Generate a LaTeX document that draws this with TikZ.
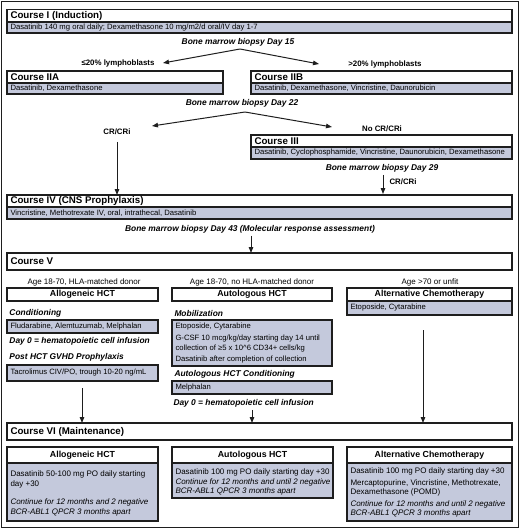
\documentclass[tikz,border=0pt]{standalone}
\usepackage{fontspec}
\setmainfont{Liberation Sans}
\usetikzlibrary{arrows.meta}
\definecolor{boxgray}{RGB}{196,201,220}
\definecolor{linegray}{RGB}{30,30,30}
\tikzset{every picture/.style={line width=0.75pt}}
\tikzset{
	boxline/.style={draw=linegray, line width=1pt},
	graybox/.style={boxline, fill=boxgray},
	headtext/.style={anchor=west, inner sep=0.75pt, font=\fontsize{7.3}{8.5}\selectfont\bfseries},
	colhead/.style={inner sep=0.75pt, font=\fontsize{6.6}{8}\selectfont\bfseries},
	bodytext/.style={anchor=west, inner sep=0.75pt, font=\fontsize{5.75}{7}\selectfont},
	maintext/.style={anchor=west, inner sep=0.75pt, font=\fontsize{6}{7}\selectfont},
	itmain/.style={maintext, font=\fontsize{6}{7}\selectfont\itshape},
	notetext/.style={inner sep=0.75pt, font=\fontsize{6.3}{7.5}\selectfont\bfseries\itshape},
	branchtext/.style={inner sep=0.75pt, font=\fontsize{5.9}{7}\selectfont\bfseries},
	agetext/.style={inner sep=0.75pt, font=\fontsize{6}{7}\selectfont},
	arr/.style={draw=linegray, line width=0.75pt, -{Triangle[length=4.5pt,width=3.4pt]}}}

\begin{document}
\begin{tikzpicture}[x=0.75pt,y=0.75pt,yscale=-1,xscale=1]
	\useasboundingbox (0,0) rectangle (520,529);
	%Shape: Rectangle (frame)
	\draw [draw=linegray, line width=0.6pt] (1.5,1.5) rectangle (518.5,527.5);
	
	%Shape: Rectangle (Course I)
	\draw [boxline] (7,9.5) rectangle (512,22);
	\draw [graybox] (7,22) rectangle (512,33);
	%Shape: Rectangle (Course IIA)
	\draw [boxline] (7,71) rectangle (223,83);
	\draw [graybox] (7,83) rectangle (223,94);
	%Shape: Rectangle (Course IIB)
	\draw [boxline] (251,71) rectangle (512,83);
	\draw [graybox] (251,83) rectangle (512,94);
	%Shape: Rectangle (Course III)
	\draw [boxline] (251,135) rectangle (512,147);
	\draw [graybox] (251,147) rectangle (512,159);
	%Shape: Rectangle (Course IV)
	\draw [boxline] (7,195) rectangle (512,207);
	\draw [graybox] (7,207) rectangle (512,219);
	%Shape: Rectangle (Course V)
	\draw [boxline] (7,253) rectangle (512,270);
	%Shape: Rectangle (Course V columns)
	\draw [boxline] (7,288) rectangle (158,301);
	\draw [boxline] (172,288) rectangle (332,301);
	\draw [boxline] (347,288) rectangle (512,301);
	\draw [graybox] (347,301) rectangle (512,315);
	\draw [graybox] (7,320) rectangle (158,333);
	\draw [graybox] (7,365) rectangle (158,381);
	\draw [graybox] (172,320) rectangle (332,366);
	\draw [graybox] (172,381) rectangle (332,394);
	%Shape: Rectangle (Course VI)
	\draw [boxline] (7,423) rectangle (512,440);
	%Shape: Rectangle (Course VI columns)
	\draw [boxline] (7,447) rectangle (158,463);
	\draw [graybox] (7,463) rectangle (158,521);
	\draw [boxline] (172,447) rectangle (333,463);
	\draw [graybox] (172,463) rectangle (333,498);
	\draw [boxline] (347,447) rectangle (512,463);
	\draw [graybox] (347,463) rectangle (512,521);
	
	% Text Node
	\node (c1h) [headtext] at (9,15.75) {Course I (Induction)};
	\node (c1b) [bodytext] at (9,27.5) {Dasatinib 140 mg oral daily; Dexamethasone 10 mg/m2/d oral/IV day 1-7};
	\node (bmb15) [notetext] at (238,42) {Bone marrow biopsy Day 15};
	\node (lowblast) [branchtext] at (118,63) {≤20\% lymphoblasts};
	\node (highblast) [branchtext] at (385,64) {>20\% lymphoblasts};
	\node (c2ah) [headtext] at (9,77) {Course IIA};
	\node (c2ab) [bodytext] at (9,88.5) {Dasatinib, Dexamethasone};
	\node (c2bh) [headtext] at (253,77) {Course IIB};
	\node (c2bb) [bodytext] at (253,88.5) {Dasatinib, Dexamethasone, Vincristine, Daunorubicin};
	\node (bmb22) [notetext] at (242,103) {Bone marrow biopsy Day 22};
	\node (crA) [branchtext] at (117,132) {CR/CRi};
	\node (nocr) [branchtext] at (382,129) {No CR/CRi};
	\node (c3h) [headtext] at (253,141) {Course III};
	\node (c3b) [bodytext] at (253,153) {Dasatinib, Cyclophosphamide, Vincristine, Daunorubicin, Dexamethasone};
	\node (bmb29) [notetext] at (382,168) {Bone marrow biopsy Day 29};
	\node (crB) [branchtext, anchor=west] at (388,182) {CR/CRi};
	\node (c4h) [headtext] at (9,201) {Course IV (CNS Prophylaxis)};
	\node (c4b) [bodytext] at (9,213) {Vincristine, Methotrexate IV, oral, intrathecal, Dasatinib};
	\node (bmb43) [notetext] at (250,229) {Bone marrow biopsy Day 43 (Molecular response assessment)};
	\node (c5h) [headtext] at (9,261.5) {Course V};
	
	% Text Node (Course V columns)
	\node (ageallo) [agetext] at (84,282) {Age 18-70, HLA-matched donor};
	\node (ageauto) [agetext] at (252,282) {Age 18-70, no HLA-matched donor};
	\node (agealt) [agetext] at (430,282) {Age >70 or unfit};
	\node (allo) [colhead] at (82.5,294.5) {Allogeneic HCT};
	\node (auto) [colhead] at (252,294.5) {Autologous HCT};
	\node (alt) [colhead] at (429.5,294.5) {Alternative Chemotherapy};
	\node (altb) [bodytext] at (349,308) {Etoposide, Cytarabine};
	\node (cond) [notetext, anchor=west] at (8,313) {Conditioning};
	\node (condb) [bodytext] at (9,326.5) {Fludarabine, Alemtuzumab, Melphalan};
	\node (dayallo) [notetext, anchor=west] at (8,341) {Day 0 = hematopoietic cell infusion};
	\node (gvhd) [notetext, anchor=west] at (8,357) {Post HCT GVHD Prophylaxis};
	\node (gvhdb) [bodytext] at (9,373) {Tacrolimus CIV/PO, trough 10-20 ng/mL};
	\node (mob) [notetext, anchor=west] at (173,313) {Mobilization};
	\node (mob1) [bodytext] at (174,327) {Etoposide, Cytarabine};
	\node (mob2) [bodytext] at (174,338.5) {G-CSF 10 mcg/kg/day starting day 14 until};
	\node (mob3) [bodytext] at (174,348.5) {collection of ≥5 x 10\textasciicircum 6 CD34+ cells/kg};
	\node (mob4) [bodytext] at (174,359.5) {Dasatinib after completion of collection};
	\node (autocond) [notetext, anchor=west] at (173,374) {Autologous HCT Conditioning};
	\node (autocondb) [bodytext] at (174,387.5) {Melphalan};
	\node (dayauto) [notetext, anchor=west] at (172,403) {Day 0 = hematopoietic cell infusion};
	
	% Text Node (Course VI)
	\node (c6h) [headtext] at (9,431.5) {Course VI (Maintenance)};
	\node (allo6) [colhead] at (82.5,455) {Allogeneic HCT};
	\node (allo6a) [maintext] at (9,474) {Dasatinib 50-100 mg PO daily starting};
	\node (allo6b) [maintext] at (9,484) {day +30};
	\node (allo6c) [itmain] at (9,502) {Continue for 12 months and 2 negative};
	\node (allo6d) [itmain] at (9,512) {BCR-ABL1 QPCR 3 months apart};
	\node (auto6) [colhead] at (252.5,455) {Autologous HCT};
	\node (auto6a) [maintext] at (174,472) {Dasatinib 100 mg PO daily starting day +30};
	\node (auto6b) [itmain] at (174,482) {Continue for 12 months and until 2 negative};
	\node (auto6c) [itmain] at (174,491) {BCR-ABL1 QPCR 3 months apart};
	\node (alt6) [colhead] at (429.5,455) {Alternative Chemotherapy};
	\node (alt6a) [maintext] at (349,471) {Dasatinib 100 mg PO daily starting day +30};
	\node (alt6b) [maintext] at (349,483.5) {Mercaptopurine, Vincristine, Methotrexate,};
	\node (alt6c) [maintext] at (349,492) {Dexamethasone (POMD)};
	\node (alt6d) [itmain] at (349,504) {Continue for 12 months and until 2 negative};
	\node (alt6e) [itmain] at (349,513) {BCR-ABL1 QPCR 3 months apart};
	
	%Coordinates for connectors
	\coordinate (splitA) at (240,49);
	\coordinate (tipA1) at (163,63);
	\coordinate (tipA2) at (319,64);
	\coordinate (splitB) at (245,112);
	\coordinate (tipB1) at (152,126);
	\coordinate (tipB2) at (332,127);
	\coordinate (c4in) at (117,195);
	\coordinate (c4inB) at (383,194);
	\coordinate (c5in) at (251,253);
	\coordinate (alloout) at (82,388);
	\coordinate (altout) at (423,330);
	\coordinate (c6allo) at (82,423);
	\coordinate (c6auto) at (252,423);
	\coordinate (c6alt) at (423,423);
	
	%Straight Lines
	\draw [arr] (splitA) -- (tipA1);
	\draw [arr] (splitA) -- (tipA2);
	\draw [arr] (splitB) -- (tipB1);
	\draw [arr] (splitB) -- (tipB2);
	\draw [arr, shorten <=4pt] (crA.south) -- (c4in);
	\draw [arr, shorten <=1pt] (bmb29.south -| c4inB) -- (c4inB);
	\draw [arr, shorten <=1pt] (bmb43.south -| c5in) -- (c5in);
	\draw [arr] (alloout) -- (c6allo);
	\draw [arr, shorten <=1pt] (dayauto.south -| c6auto) -- (c6auto);
	\draw [arr] (altout) -- (c6alt);
	
\end{tikzpicture}
\end{document}
